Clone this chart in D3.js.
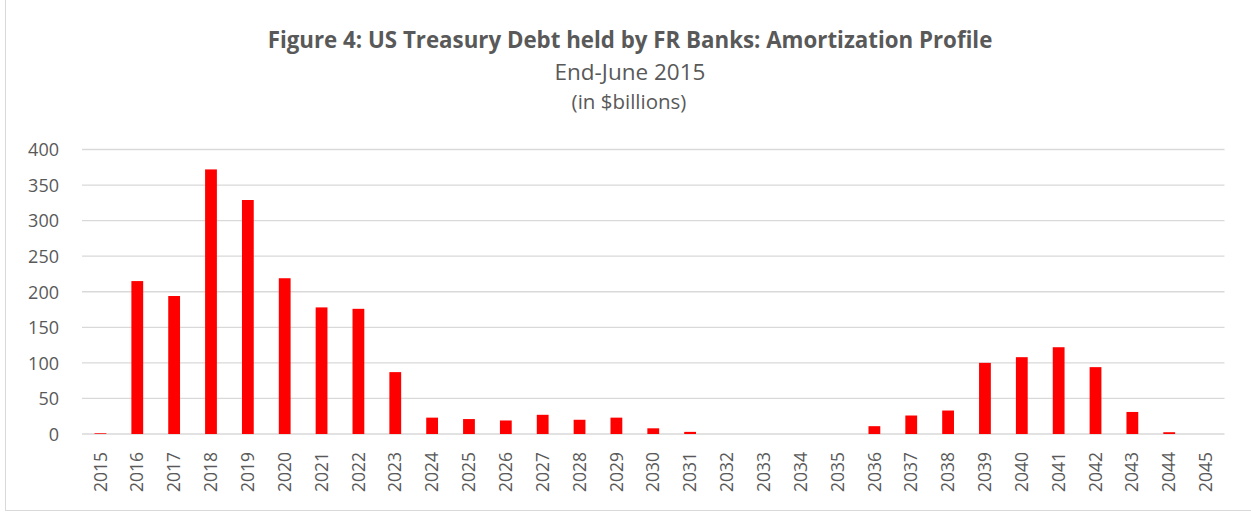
<!DOCTYPE html>
<html><head><meta charset="utf-8">
<script src="https://cdn.jsdelivr.net/npm/d3@7"></script>
<style>body{margin:0;background:#fff}svg{display:block}</style>
</head><body>
<svg id="c" width="1251" height="513"></svg>
<script>
const years = ["2015","2016","2017","2018","2019","2020","2021","2022","2023","2024","2025","2026","2027","2028","2029","2030","2031","2032","2033","2034","2035","2036","2037","2038","2039","2040","2041","2042","2043","2044","2045"];
const values = [1,215,194,372,329,219,178,176,87,23,21,19,27,20,23,8,3,0,0,0,0,11,26,33,100,108,122,94,31,2.5,0];
const yTicks = [0,50,100,150,200,250,300,350,400];
const titleText = "Figure 4: US Treasury Debt held by FR Banks: Amortization Profile";
const subtitle1 = "End-June 2015";
const subtitle2 = "(in $billions)";

const svg = d3.select("#c");
const W = 1251, H = 513;
const m = {left: 82, right: 1224.5, top: 149.5, bottom: 434};

svg.append("rect").attr("x",5.5).attr("y",-1).attr("width",W).attr("height",H-1.5)
  .attr("fill","#fff").attr("stroke","#d9d9d9").attr("stroke-width",1);

const x = d3.scaleBand().domain(years).range([m.left, m.right]).paddingInner(0.68).paddingOuter(0.34);
const y = d3.scaleLinear().domain([0,400]).range([m.bottom, m.top]);

const font = "'Open Sans', 'Noto Sans', sans-serif";

// gridlines
svg.append("g").selectAll("line").data(yTicks).join("line")
  .attr("x1", m.left).attr("x2", m.right)
  .attr("y1", d => y(d)).attr("y2", d => y(d))
  .attr("stroke", "#d9d9d9").attr("stroke-width", 1.3);

// y axis labels
const yAxis = d3.axisLeft(y).tickValues(yTicks).tickSize(0).tickPadding(0);
const ya = svg.append("g").attr("transform", `translate(${m.left-23},0)`).call(yAxis);
ya.select(".domain").remove();
ya.selectAll("text").attr("font-family", font).attr("font-size", 18).attr("fill", "#595959").attr("dy","0.35em");

// bars
svg.append("g").selectAll("rect").data(values).join("rect")
  .attr("x", (d,i) => x(years[i]))
  .attr("width", x.bandwidth())
  .attr("y", d => y(d))
  .attr("height", d => y(0) - y(d))
  .attr("fill", "#ff0000");

// x axis labels
const xAxis = d3.axisBottom(x).tickSize(0).tickPadding(0);
const xa = svg.append("g").attr("transform", `translate(0,${m.bottom})`).call(xAxis);
xa.select(".domain").remove();
xa.selectAll("text")
  .attr("font-family", font).attr("font-size", 17.5).attr("fill", "#595959")
  .attr("text-anchor", "end")
  .attr("transform", "translate(0,18) rotate(-90)")
  .attr("x", 0).attr("y", 0).attr("dy", "0.35em");

// titles
svg.append("text").attr("x", 630).attr("y", 48).attr("text-anchor","middle")
  .attr("font-family", font).attr("font-weight","bold").attr("font-size", 22.3).attr("fill","#595959")
  .text(titleText);
svg.append("text").attr("x", 630).attr("y", 80).attr("text-anchor","middle")
  .attr("font-family", font).attr("font-size", 22.5).attr("fill","#595959")
  .text(subtitle1);
svg.append("text").attr("x", 629).attr("y", 109).attr("text-anchor","middle")
  .attr("font-family", font).attr("font-size", 20.5).attr("fill","#595959")
  .text(subtitle2);
</script>
</body></html>
